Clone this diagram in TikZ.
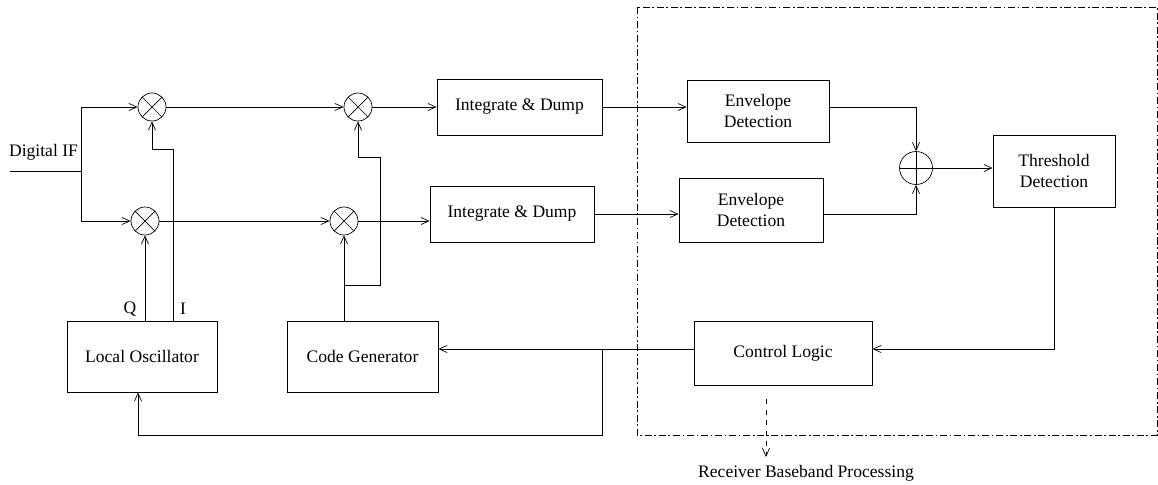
\documentclass[tikz,border=0pt]{standalone}
\usepackage{fontspec}
\setmainfont{Liberation Serif}
\usetikzlibrary{arrows.meta}

\tikzset{
  blk/.style={draw,align=center,inner sep=1pt},
  mixer/.style={draw,circle,inner sep=0pt,minimum size=0.56cm,
    path picture={\draw (path picture bounding box.north west) -- (path picture bounding box.south east)
      (path picture bounding box.north east) -- (path picture bounding box.south west);}},
  adder/.style={draw,circle,inner sep=0pt,minimum size=0.66cm,
    path picture={\draw (path picture bounding box.north) -- (path picture bounding box.south)
      (path picture bounding box.west) -- (path picture bounding box.east);}},
  sig/.style={-{Straight Barb[length=4.5pt,width=4pt]}},
  dashdot/.style={dash pattern=on 4pt off 1.5pt on 1pt off 1.5pt}
}

\begin{document}
\begin{tikzpicture}[x=0.02cm,y=-0.02cm]
\useasboundingbox (0,0) rectangle (1158,484);

%%% mixers and adder %%%
  \node (MI1) at (152,107) [mixer] {};
  \node (MI2) at (358,107) [mixer] {};
  \node (MQ1) at (145,221) [mixer] {};
  \node (MQ2) at (344,221) [mixer] {};
  \node (S) at (916,168) [adder] {};

%%% blocks %%%
  \node (IDi) at (519.5,107) [blk,minimum width=3.3cm,minimum height=1.12cm] {Integrate \& Dump};
  \node (IDq) at (512,214) [blk,minimum width=3.28cm,minimum height=1.12cm] {Integrate \& Dump};
  \node (ENi) at (758,111) [blk,minimum width=2.84cm,minimum height=1.24cm] {Envelope\\Detection};
  \node (ENq) at (751,210) [blk,minimum width=2.88cm,minimum height=1.28cm] {Envelope\\Detection};
  \node (TH) at (1054,171) [blk,minimum width=2.44cm,minimum height=1.44cm] {Threshold\\Detection};
  \node (CL) at (783,353) [blk,minimum width=3.56cm,minimum height=1.28cm] {Control Logic};
  \node (LO) at (142,356.5) [blk,minimum width=3cm,minimum height=1.42cm] {Local Oscillator};
  \node (CG) at (362.5,356.5) [blk,minimum width=3.02cm,minimum height=1.42cm] {Code Generator};

%%% branch points %%%
  \coordinate (in) at (10,171);
  \coordinate (sp) at (81,171);
  \coordinate (Iout) at (173,321);
  \coordinate (CGb) at (344,285);
  \coordinate (fb) at (602,349);
  \coordinate (lp) at (138,435);
  \coordinate (RB) at (766,399);
  \coordinate (RBe) at (766,457);

\draw (43.5,152) node {Digital IF};
\draw (130,309) node {Q};
\draw (183,309) node {I};
\draw (806,473) node {Receiver Baseband Processing};

%%% receiver block %%%
\draw[dashdot] (637,7) rectangle (1157,435);

\draw (in) -- (sp);
\draw[sig] (sp) |- (MI1.west);
\draw[sig] (sp) |- (MQ1.west);
\draw[sig] (MI1.east) -- (MI2.west);
\draw[sig] (MQ1.east) -- (MQ2.west);
\draw[sig] (MI2.east) -- (IDi.west);
\draw[sig] (MQ2.east) -- (MQ2.east -| IDq.west);
\draw[sig] (IDi.east) -- (IDi.east -| ENi.west);
\draw[sig] (IDq.east) -- (IDq.east -| ENq.west);
\draw[sig] (IDi.east -| ENi.east) -| (S.north);
\draw[sig] (IDq.east -| ENq.east) -| (S.south);
\draw[sig] (S.east) -- (S.east -| TH.west);
\draw[sig] (TH.south) |- (fb -| CL.east);
\draw[sig] (fb -| CL.west) -- (fb -| CG.east);
\draw[sig] (fb) |- (lp) -- (lp |- LO.south);

\draw[sig] (MQ1 |- LO.north) -- (MQ1.south);
\draw[sig] (Iout) -- ++(0,-172) -| (MI1.south);
\draw[sig] (MQ2 |- CG.north) -- (MQ2.south);
\draw[sig] (CGb) -- ++(36,0) -- ++(0,-128) -| (MI2.south);

\draw[dashed,sig] (RB) -- (RBe);
\end{tikzpicture}
\end{document}
